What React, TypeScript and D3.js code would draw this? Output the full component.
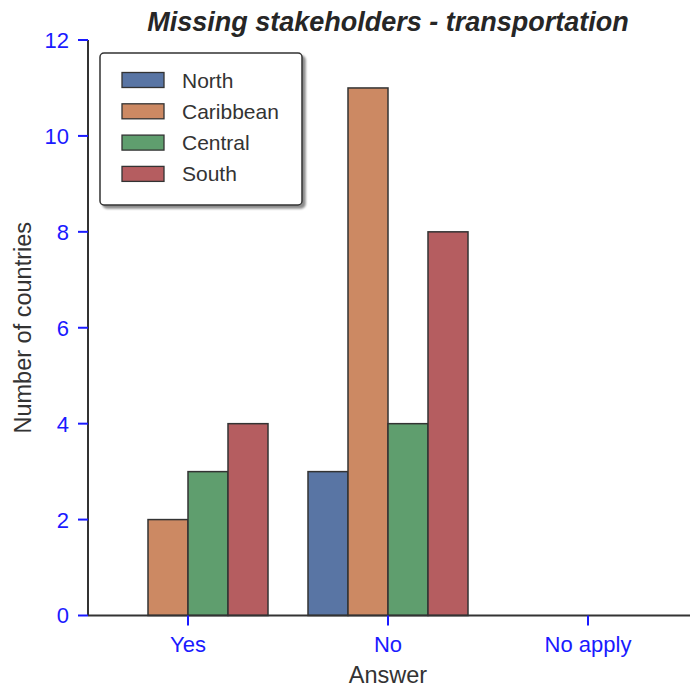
import React from 'react';
import * as d3 from 'd3';

const answers = ['Yes', 'No', 'No apply'];
const regions = ['North', 'Caribbean', 'Central', 'South'];
const regionColors = ['#5975a4', '#cc8963', '#5f9e6e', '#b55d60'];
// values per region, in answer order
const northValues = [0, 3, 0];
const caribbeanValues = [2, 11, 0];
const centralValues = [3, 4, 0];
const southValues = [4, 8, 0];
const yTicks = [0, 2, 4, 6, 8, 10, 12];

const seriesValues = [northValues, caribbeanValues, centralValues, southValues];

export default function App() {
  const width = 700;
  const height = 688;
  const margin = { top: 40, right: 10, bottom: 73, left: 88 };
  const font = '"Liberation Sans", Arial, sans-serif';

  const x = d3.scaleBand<string>().domain(answers).range([margin.left, margin.left + 600]).padding(0);
  const inner = d3.scaleBand<string>().domain(regions).range([20, 180]).padding(0);
  const y = d3.scaleLinear().domain([0, 12]).range([height - margin.bottom + 0.5, margin.top]);
  const color = d3.scaleOrdinal<string, string>().domain(regions).range(regionColors);

  const y0 = y(0);
  const axisRight = 690;

  return (
    <svg width={width} height={height} style={{ position: 'absolute', left: 0, top: 0, background: 'white' }}>
      <defs>
        <filter id="shadow" x="-10%" y="-10%" width="130%" height="130%">
          <feDropShadow dx="3" dy="3" stdDeviation="0.8" floodColor="#000" floodOpacity="0.45" />
        </filter>
      </defs>

      {/* Title */}
      <text x={388} y={31} textAnchor="middle" fontFamily={font} fontSize={27} fontWeight="bold" fontStyle="italic" fill="#262626">
        Missing stakeholders - transportation
      </text>

      {/* Bars */}
      {regions.map((r, ri) =>
        answers.map((a, ai) => {
          const v = seriesValues[ri][ai];
          if (v === 0) return null;
          const bx = (x(a) ?? 0) + (inner(r) ?? 0);
          return (
            <rect
              key={`${r}-${a}`}
              x={bx}
              y={y(v)}
              width={inner.bandwidth()}
              height={y0 - y(v)}
              fill={color(r)}
              stroke="#333"
              strokeWidth={1.5}
            />
          );
        })
      )}

      {/* Y axis */}
      <line x1={margin.left} x2={margin.left} y1={y(12)} y2={y0} stroke="#333" strokeWidth={2} />
      {yTicks.map((t) => (
        <g key={t}>
          <line x1={margin.left - 10} x2={margin.left} y1={y(t)} y2={y(t)} stroke="#1a1aff" strokeWidth={2} />
          <text x={margin.left - 19} y={y(t)} dy="0.36em" textAnchor="end" fontFamily={font} fontSize={22} fill="#1a1aff">
            {t}
          </text>
        </g>
      ))}

      {/* X axis */}
      <line x1={margin.left} x2={axisRight} y1={y0} y2={y0} stroke="#333" strokeWidth={2} />
      {answers.map((a) => {
        const cx = (x(a) ?? 0) + x.bandwidth() / 2;
        return (
          <g key={a}>
            <line x1={cx} x2={cx} y1={y0} y2={y0 + 10} stroke="#1a1aff" strokeWidth={2} />
            <text x={cx} y={652} textAnchor="middle" fontFamily={font} fontSize={22} fill="#1a1aff">
              {a}
            </text>
          </g>
        );
      })}

      {/* Axis labels */}
      <text x={388} y={683} textAnchor="middle" fontFamily={font} fontSize={23.5} fill="#333">
        Answer
      </text>
      <text
        transform={`translate(31,${(y(12) + y0) / 2}) rotate(-90)`}
        textAnchor="middle"
        fontFamily={font}
        fontSize={23.5}
        fill="#333"
      >
        Number of countries
      </text>

      {/* Legend */}
      <g>
        <rect x={100} y={53} width={202} height={152} rx={4} fill="white" stroke="#333" strokeWidth={1.5} filter="url(#shadow)" />
        {regions.map((r, i) => (
          <g key={r} transform={`translate(122,${80 + i * 31.3})`}>
            <rect x={0} y={-7.5} width={42} height={15} fill={color(r)} stroke="#333" strokeWidth={1.3} />
            <text x={60} y={0} dy="0.36em" fontFamily={font} fontSize={21} fill="#333">
              {r}
            </text>
          </g>
        ))}
      </g>
    </svg>
  );
}
